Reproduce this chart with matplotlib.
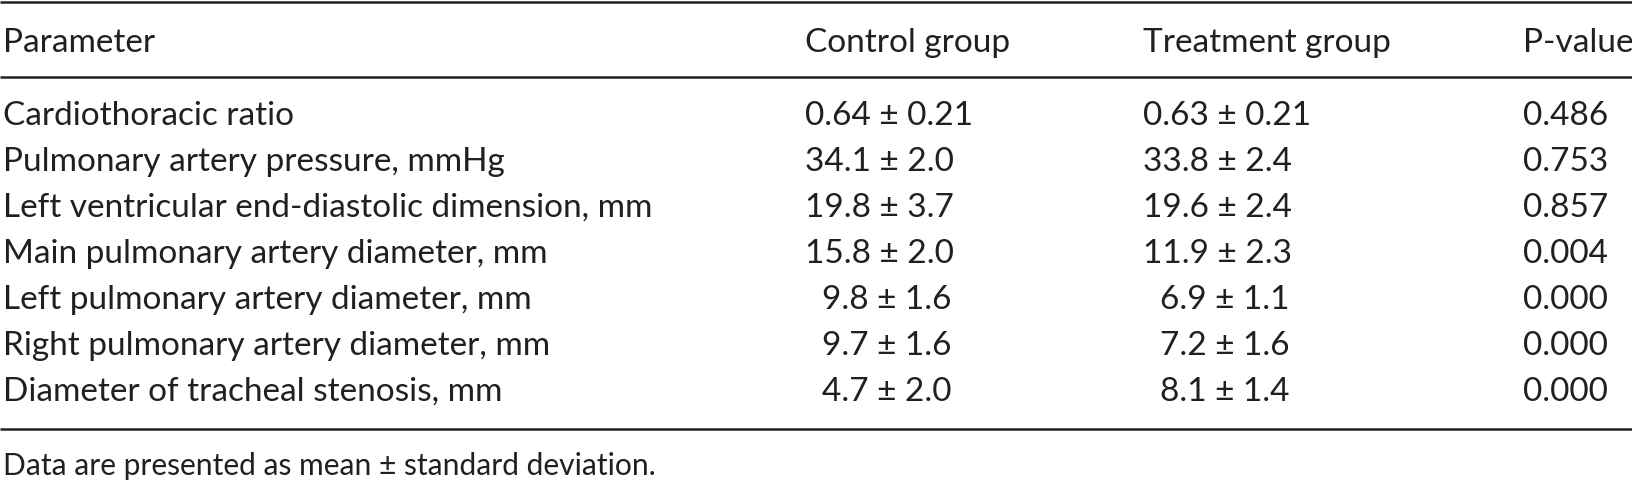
import matplotlib
matplotlib.use("Agg")
import matplotlib.pyplot as plt

plt.rcParams['font.family'] = ['Lato', 'DejaVu Sans']

headers = ["Parameter", "Control group", "Treatment group", "P-value"]
parameters = [
    "Cardiothoracic ratio",
    "Pulmonary artery pressure, mmHg",
    "Left ventricular end-diastolic dimension, mm",
    "Main pulmonary artery diameter, mm",
    "Left pulmonary artery diameter, mm",
    "Right pulmonary artery diameter, mm",
    "Diameter of tracheal stenosis, mm",
]
control = ["0.64", "34.1", "19.8", "15.8", "9.8", "9.7", "4.7"]
control_sd = ["0.21", "2.0", "3.7", "2.0", "1.6", "1.6", "2.0"]
treatment = ["0.63", "33.8", "19.6", "11.9", "6.9", "7.2", "8.1"]
treatment_sd = ["0.21", "2.4", "2.4", "2.3", "1.1", "1.6", "1.4"]
p_values = ["0.486", "0.753", "0.857", "0.004", "0.000", "0.000", "0.000"]
footnote = "Data are presented as mean \u00b1 standard deviation."

W, H = 1632, 484
ink = '#231f20'
fig = plt.figure(figsize=(W / 100, H / 100), dpi=100)
ax = fig.add_axes([0, 0, 1, 1])
ax.set_xlim(0, W)
ax.set_ylim(H, 0)
ax.axis('off')

fs = 24
col_x = [3, 805, 1143, 1523]
pad_w = 17          # one digit of indent for single-digit means
row0, row_step = 125, 46

# rules
for y in (1.5, 77, 429):
    ax.plot([0, W], [y, y], color=ink, lw=1.8, solid_capstyle='butt')

for x, h in zip(col_x, headers):
    ax.text(x, 52, h, fontsize=fs, va='baseline', ha='left', color=ink)


def cell(x, y, mean, sd):
    if len(mean.split('.')[0]) == 1 and not mean.startswith('0.'):
        x += pad_w
    ax.text(x, y, mean + " \u00b1 " + sd, fontsize=fs, va='baseline',
            ha='left', color=ink)


for i, name in enumerate(parameters):
    y = row0 + row_step * i
    ax.text(col_x[0], y, name, fontsize=fs, va='baseline', ha='left',
            color=ink)
    cell(col_x[1], y, control[i], control_sd[i])
    cell(col_x[2], y, treatment[i], treatment_sd[i])
    ax.text(col_x[3], y, p_values[i], fontsize=fs, va='baseline', ha='left',
            color=ink)

ax.text(col_x[0], 475, footnote, fontsize=fs * 0.9, va='baseline',
        ha='left', color=ink)

fig.savefig("out.png", dpi=100)
